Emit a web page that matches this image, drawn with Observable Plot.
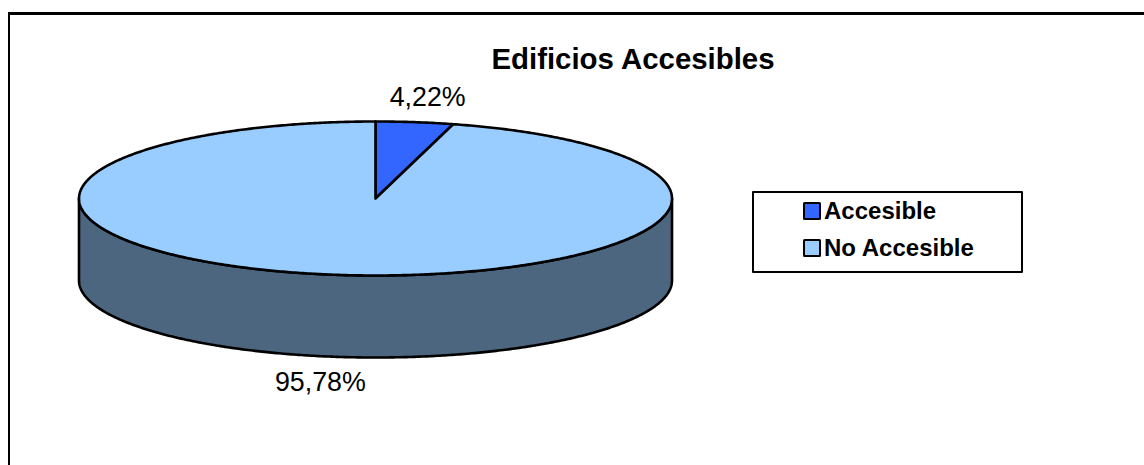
<!DOCTYPE html>
<html lang="es">
<head>
<meta charset="utf-8">
<script src="https://cdn.jsdelivr.net/npm/d3@7"></script>
<script src="https://cdn.jsdelivr.net/npm/@observablehq/plot@0.6"></script>
<style>
  html, body { margin: 0; padding: 0; background: #fff; overflow: hidden; }
  #page { position: relative; width: 1144px; height: 465px; font-family: "Liberation Sans", Arial, sans-serif; color: #000; overflow: hidden; }
  #chart { position: absolute; left: 0; top: 0; width: 1144px; height: 465px; }
  #frame { position: absolute; left: 8px; top: 12px; width: 1200px; height: 500px; box-sizing: border-box; border-top: 3px solid #000; border-left: 2.5px solid #000; }
  #title { position: absolute; left: 391px; width: 484px; top: 43px; text-align: center; font-weight: 700; font-size: 29.4px; line-height: 32px; white-space: nowrap; }
  #legend { position: absolute; left: 751.5px; top: 190.5px; width: 271px; height: 82px; box-sizing: border-box; border: 2.5px solid #000; border-radius: 1px; background: #fff; }
  .entry { position: absolute; left: 49px; display: flex; align-items: center; font-weight: 700; font-size: 24px; line-height: 28px; white-space: nowrap; }
  .swatch { width: 18px; height: 18px; box-sizing: border-box; border: 2.5px solid #000; border-radius: 1.5px; margin-right: 3.5px; }
</style>
</head>
<body>
<div id="page">
  <div id="frame"></div>
  <div id="chart"></div>
  <div id="title">Edificios Accesibles</div>
  <div id="legend"></div>
</div>
<script>
// Share of buildings by accessibility, in percent
const categories = ["Accesible", "No Accesible"];
const shares = [4.22, 95.78];
const shareLabels = ["4,22%", "95,78%"];
const sliceColors = ["#3366ff", "#99ccff"];
const wallColor = "#4c667f";

// The disc is a unit circle; the y scale squashes it into an ellipse.
// The wall thickness and the label distance are in the same units.
const wallDepth = 1.065;
const labelRadius = 1.33;
const frontLabelShift = 0.01;
const arcStep = 0.5; // degrees between outline vertices

// Clockwise from 12 o'clock, as a pie chart is read
const onCircle = (deg, r = 1, drop = 0) => {
  const a = (deg * Math.PI) / 180;
  return {x: r * Math.sin(a), y: r * Math.cos(a) - drop};
};

const arc = (from, to, drop = 0) => {
  const pts = d3.range(from, to, arcStep).map((d) => onCircle(d, 1, drop));
  pts.push(onCircle(to, 1, drop));
  return pts;
};

// Slice start and end angles accumulated from the shares
let running = 0;
const slices = categories.map((name, i) => {
  const start = (running / 100) * 360;
  running += shares[i];
  const end = (running / 100) * 360;
  return {name, color: sliceColors[i], label: shareLabels[i], start, end};
});

const slicePath = (s) => [{x: 0, y: 0}, ...arc(s.start, s.end), {x: 0, y: 0}];

// Visible front part of the cylinder wall
const wallPath = [...arc(90, 270), ...arc(90, 270, wallDepth).reverse(), onCircle(90)];

// Labels sit outside the rim; those in the front half clear the wall too
const labels = slices.map((s) => {
  const mid = (s.start + s.end) / 2;
  const p = onCircle(mid, labelRadius);
  return p.y < 0
    ? {x: p.x - frontLabelShift, y: p.y - wallDepth, text: s.label}
    : {x: p.x, y: p.y, text: s.label};
});

const outline = {stroke: "#000", strokeWidth: 2.6, strokeLinejoin: "round", curve: "linear"};

const plot = Plot.plot({
  width: 1144,
  height: 465,
  margin: 0,
  style: {background: "transparent", overflow: "visible"},
  x: {domain: [-1, 1], range: [78.5, 671.5], axis: null},
  y: {domain: [-1, 1], range: [275, 121], axis: null},
  marks: [
    Plot.line(wallPath, {x: "x", y: "y", fill: wallColor, ...outline}),
    ...slices.map((s) => Plot.line(slicePath(s), {x: "x", y: "y", fill: s.color, ...outline})),
    Plot.text(labels, {
      x: "x",
      y: "y",
      text: "text",
      fontSize: 26.8,
      fontFamily: "Liberation Sans, Arial, sans-serif",
      fill: "#000"
    })
  ]
});
document.getElementById("chart").appendChild(plot);

// Legend entries
const legend = document.getElementById("legend");
categories.forEach((name, i) => {
  const row = document.createElement("div");
  row.className = "entry";
  row.style.top = 4.5 + i * 37 + "px";
  const swatch = document.createElement("span");
  swatch.className = "swatch";
  swatch.style.background = sliceColors[i];
  row.appendChild(swatch);
  row.appendChild(document.createTextNode(name));
  legend.appendChild(row);
});
</script>
</body>
</html>
